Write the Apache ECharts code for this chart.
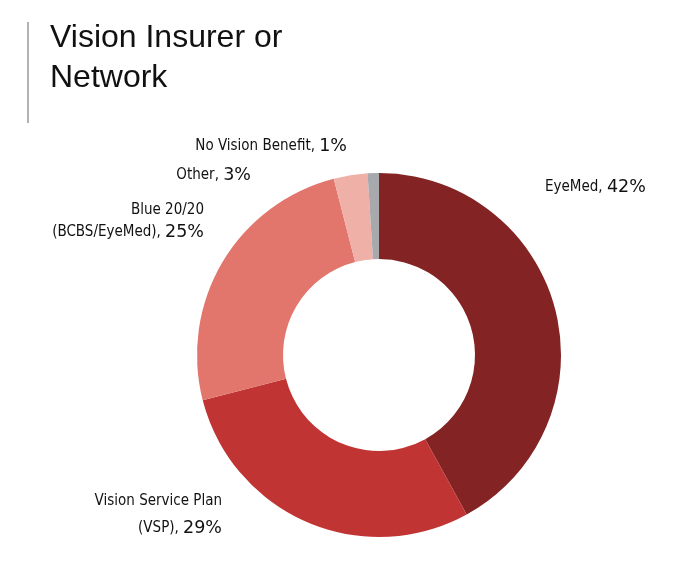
<!DOCTYPE html>
<html>
<head>
<meta charset="utf-8">
<script src="https://cdn.jsdelivr.net/npm/echarts@6/dist/echarts.min.js"></script>
<style>
  html, body { margin: 0; padding: 0; background: #fff; }
  #main { width: 676px; height: 582px; }
</style>
</head>
<body>
<div id="main"></div>
<script>
// data
const names = ['EyeMed', 'Vision Service Plan\n(VSP)', 'Blue 20/20\n(BCBS/EyeMed)', 'Other', 'No Vision Benefit'];
const values = [42, 29, 25, 3, 1];
const colors = ['#832323', '#C03533', '#E2766D', '#EEB0A7', '#A7A9AC'];

// where each label sits (x, y, align, line height)
const labelSpots = [
  [545, 187, 'left', 22],
  [222, 515, 'right', 27],
  [204, 221, 'right', 22],
  [251, 175, 'right', 22],
  [347, 146, 'right', 22]
];

const chart = echarts.init(document.getElementById('main'), null, { renderer: 'canvas' });

const narrow = "'Liberation Sans Narrow', 'DejaVu Sans Condensed', sans-serif";

function richFor(lh) {
  return {
    n: { fontFamily: narrow, fontSize: 15, color: '#111', lineHeight: lh },
    v: { fontFamily: "'DejaVu Sans', sans-serif", fontSize: 17.5, color: '#111', lineHeight: lh }
  };
}

chart.setOption({
  animation: false,
  title: {
    text: 'Vision Insurer or\nNetwork',
    left: 45,
    top: 13,
    textStyle: {
      fontFamily: "'Liberation Sans', Arial, sans-serif",
      fontSize: 32,
      fontWeight: 'normal',
      color: '#111',
      lineHeight: 40
    }
  },
  graphic: [{
    type: 'line',
    shape: { x1: 28, y1: 22, x2: 28, y2: 123 },
    style: { stroke: '#999', lineWidth: 1.5 }
  }],
  series: [{
    type: 'pie',
    center: [379, 355],
    radius: [96, 182],
    startAngle: 90,
    clockwise: true,
    avoidLabelOverlap: false,
    itemStyle: { borderWidth: 0 },
    emphasis: { disabled: true },
    labelLine: { show: false },
    label: {
      show: true,
      position: 'outside',
      formatter: p => {
        const lines = p.name.split('\n');
        const last = lines.pop();
        return lines.map(l => '{n|' + l + '}').concat('{n|' + last + ', }{v|' + p.value + '%}').join('\n');
      }
    },
    labelLayout: p => {
      const s = labelSpots[p.dataIndex];
      return { x: s[0], y: s[1], align: s[2], verticalAlign: 'middle' };
    },
    data: names.map((n, i) => ({
      name: n,
      value: values[i],
      itemStyle: { color: colors[i] },
      label: { rich: richFor(labelSpots[i][3]) }
    }))
  }]
});
</script>
</body>
</html>
